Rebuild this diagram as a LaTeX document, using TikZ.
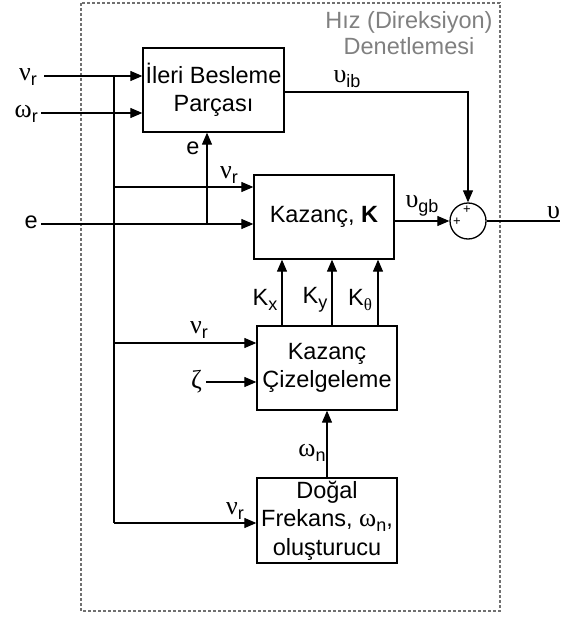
\documentclass[tikz,border=0pt]{standalone}
\usepackage{fontspec}
\usepackage{graphicx}
\setmainfont{Liberation Sans}
\newfontfamily\grk{Liberation Serif}
\usetikzlibrary{arrows.meta}
\definecolor{framegray}{HTML}{707070}
\definecolor{titlegray}{HTML}{808080}
\newcommand\gl[1]{{\grk\fontsize{26}{26}\selectfont #1}}
\newcommand\sbs[1]{\raisebox{-5pt}{\fontsize{18}{18}\selectfont #1}}
\newcommand\gsub[2]{\gl{#1}\sbs{#2}}
\begin{document}
\begin{tikzpicture}[x=1pt,y=-1pt,
  font=\fontsize{23.5}{28.5}\selectfont,
  blk/.style={draw, line width=1.3pt, minimum width=140pt, minimum height=84pt, align=center, inner sep=0pt},
  conn/.style={line width=1.2pt},
  arr/.style={conn, -{Triangle[length=12pt,width=10pt]}},
  lbl/.style={inner sep=0pt},
  pm/.style={inner sep=0pt, font=\fontsize{13}{13}\selectfont}]
\useasboundingbox (0,0) rectangle (560,623);
% frame
\draw[framegray, line width=2pt, dash pattern=on 3pt off 2pt] (81,3) rectangle (500,611);
\node[text=titlegray, align=center, font=\fontsize{23.5}{26}\selectfont] (title) at (409,33) {Hız (Direksiyon)\\Denetlemesi};
% blocks
\node[blk, minimum width=141pt] (ff) at (213.5,90) {İleri Besleme\\Parçası};
\node[blk] (kaz) at (324,217) {Kazanç, \textbf{K}};
\node[draw, circle, minimum size=36pt, inner sep=0pt, line width=1.3pt] (sum) at (468,221) {};
\node[pm] (p1) at (467,210) {+};
\node[pm] (p2) at (457,222) {+};
\node[blk] (ciz) at (327,368) {Kazanç\\Çizelgeleme};
\node[blk, minimum height=85pt] (dog) at (327,520.5) {Doğal\\Frekans, \gsub{ω}{n},\\oluşturucu};
% inputs
\coordinate (vrin) at (44,76);
\node[lbl, anchor=east] (vrl) at (37,77) {\gsub{ν}{r}};
\draw[arr] (vrin) -- (ff.west |- vrin);
\coordinate (wrin) at (41,113);
\node[lbl, anchor=east] (wrl) at (38,114) {\gsub{ω}{r}};
\draw[arr] (wrin) -- (ff.west |- wrin);
\coordinate (ein) at (41,224);
\node[lbl, anchor=east] (el) at (38,222) {e};
\draw[arr] (ein) -- (kaz.west |- ein);
\coordinate (ej) at (207,224);
\draw[arr] (ej) -- (ej |- ff.south);
\node[lbl] (el2) at (193,148) {e};
% branch
\coordinate (b1) at (114,76);
\coordinate (bK) at (114,187);
\coordinate (bC) at (114,343);
\coordinate (bD) at (114,523);
\draw[conn] (b1) -- (bD);
\draw[arr] (bK) -- (kaz.west |- bK);
\node[lbl] (vrk) at (229,175) {\gsub{ν}{r}};
\draw[arr] (bC) -- (ciz.west |- bC);
\node[lbl] (vrc) at (199,330) {\gsub{ν}{r}};
\draw[arr] (bD) -- (dog.west |- bD);
\node[lbl] (vrd) at (235,511) {\gsub{ν}{r}};
% zeta
\coordinate (zin) at (206,382);
\node[lbl, anchor=east] (zl) at (202,382) {\gl{ζ}};
\draw[arr] (zin) -- (ciz.west |- zin);
% omega_n
\draw[arr] (dog.north) -- (ciz.south);
\node[lbl] (wnl) at (312,453) {\gsub{ω}{n}};
% gains
\coordinate (kx) at (282,0);
\coordinate (ky) at (332,0);
\coordinate (kt) at (378,0);
\draw[arr] (kx |- ciz.north) -- (kx |- kaz.south);
\draw[arr] (ky |- ciz.north) -- (ky |- kaz.south);
\draw[arr] (kt |- ciz.north) -- (kt |- kaz.south);
\node[lbl] (kxl) at (265,300) {K\sbs{x}};
\node[lbl] (kyl) at (315,300) {K\sbs{y}};
\node[lbl] (ktl) at (360,300) {K\raisebox{-5pt}{\grk\fontsize{17}{17}\selectfont θ}};
% feed-forward output
\coordinate (y92) at (0,92);
\draw[arr] (ff.east |- y92) -- (sum.north |- y92) -- (sum.north);
\node[lbl] (uib) at (347,79) {\gsub{υ}{ib}};
% gain output
\draw[arr] (kaz.east |- sum.west) -- (sum.west);
\node[lbl] (ugb) at (422,206) {\gsub{υ}{gb}};
% output
\coordinate (out) at (560,221);
\draw[conn] (sum.east) -- (out);
\node[lbl, anchor=south west] (ul) at (547,219) {\gl{υ}};
\end{tikzpicture}
\end{document}
